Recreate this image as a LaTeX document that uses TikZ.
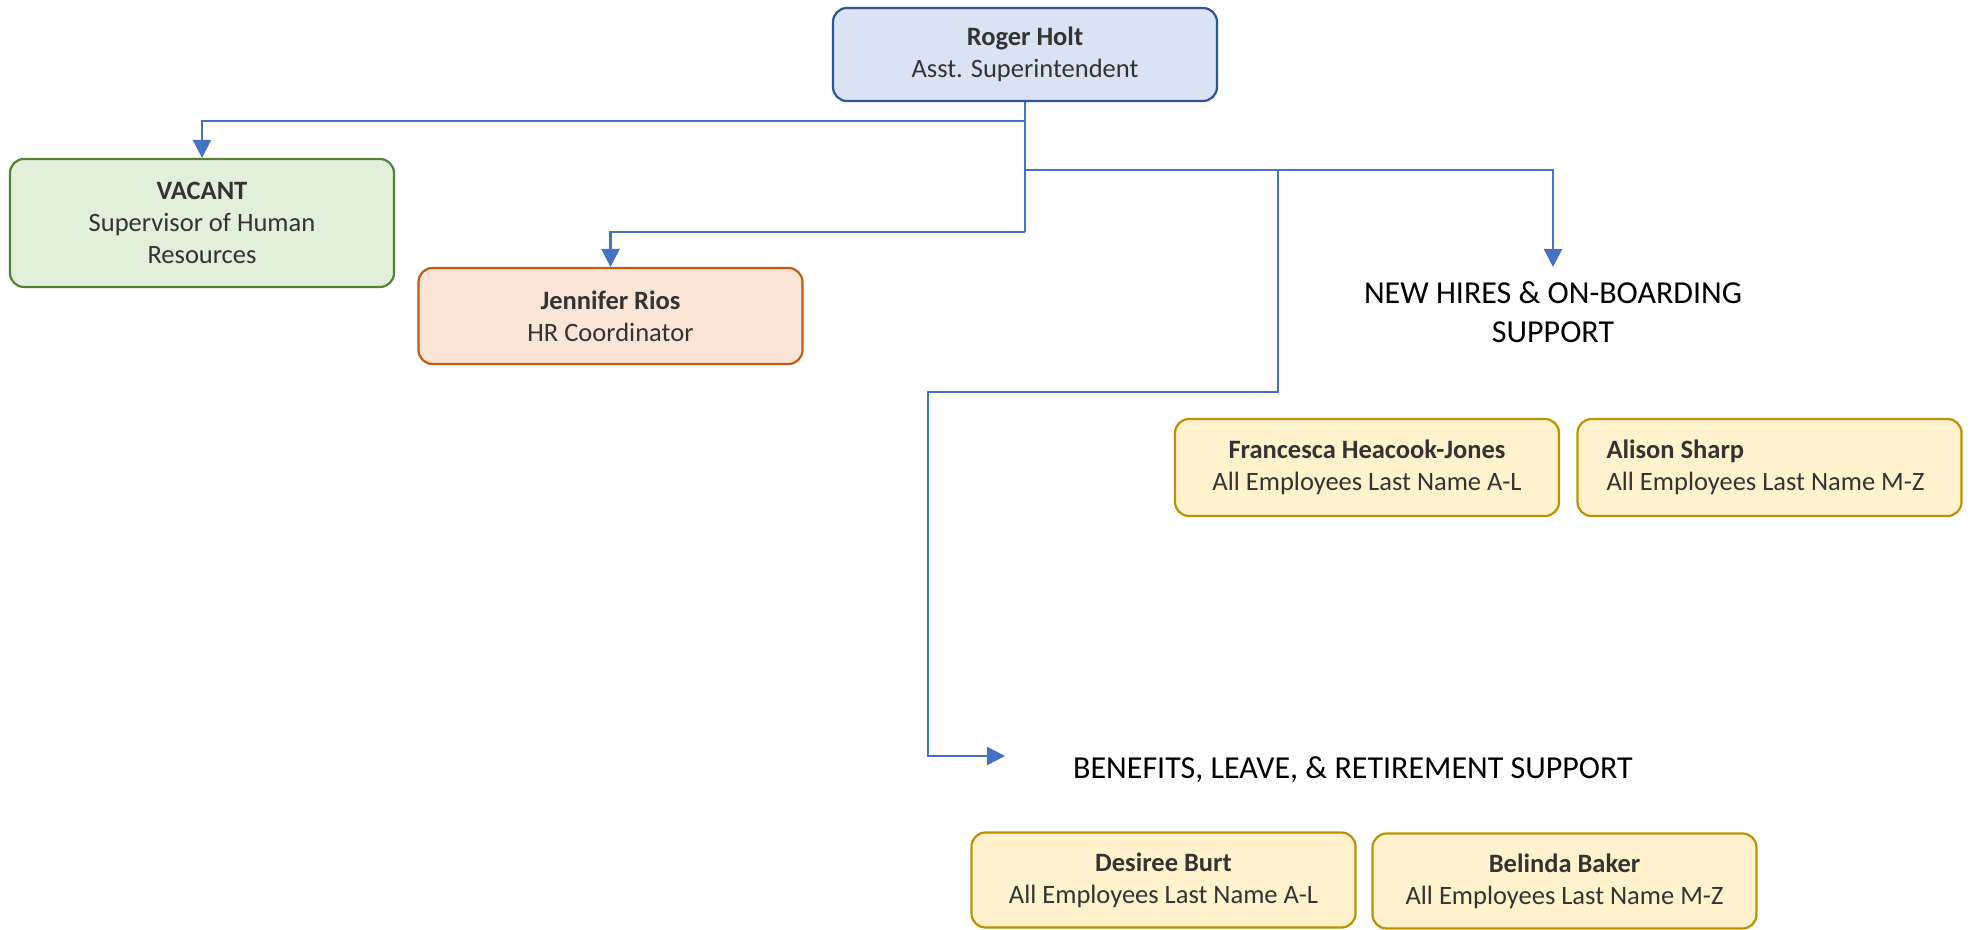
\documentclass[tikz,border=0pt]{standalone}
\usepackage{fontspec}
\setmainfont{Carlito}
\usetikzlibrary{arrows.meta}
\definecolor{conn}{HTML}{4472C4}
\definecolor{txt}{HTML}{333333}
\definecolor{bfill}{HTML}{DAE3F3}\definecolor{bdraw}{HTML}{2F5597}
\definecolor{gfill}{HTML}{E2EFDA}\definecolor{gdraw}{HTML}{548235}
\definecolor{ofill}{HTML}{FBE5D6}\definecolor{odraw}{HTML}{C55A11}
\definecolor{yfill}{HTML}{FFF2CC}\definecolor{ydraw}{HTML}{BF9000}
\tikzset{
  box/.style={draw, rounded corners=14pt, line width=2.2pt, align=center,
    text=txt, font=\fontsize{26.5}{32}\selectfont, inner sep=0pt,
    minimum width=384pt},
  bluebox/.style={box, fill=bfill, draw=bdraw},
  greenbox/.style={box, fill=gfill, draw=gdraw},
  orangebox/.style={box, fill=ofill, draw=odraw},
  yellowbox/.style={box, fill=yfill, draw=ydraw},
  header/.style={align=center, text=black, font=\fontsize{32}{39}\selectfont, inner sep=0pt},
  connector/.style={draw=conn, line width=2.5pt, -{Triangle[length=18pt,width=18pt]}},
  plainline/.style={draw=conn, line width=2.5pt}
}
\begin{document}
\begin{tikzpicture}[x=1pt,y=-1pt]
\useasboundingbox (0,0) rectangle (1973,929);
\node[bluebox, minimum height=93pt] (R) at (1025,54.5) {\textbf{Roger Holt}\\Asst. Superintendent};
\node[greenbox, minimum height=128pt] (V) at (202,223) {\textbf{VACANT}\\Supervisor of Human\\Resources};
\node[orangebox, minimum height=96pt] (J) at (610.5,316) {\textbf{Jennifer Rios}\\HR Coordinator};
\node[header, anchor=north, inner ysep=14pt] (NH) at (1553,267) {NEW HIRES \& ON-BOARDING\\SUPPORT};
\node[yellowbox, minimum height=97pt] (F) at (1367,467.5) {\textbf{Francesca Heacook-Jones}\\All Employees Last Name A-L};
\node[yellowbox, minimum height=97pt, text width=326pt, align=flush left, inner xsep=29pt] (A) at (1769.5,467.5) {\textbf{Alison Sharp}\\All Employees Last Name M-Z};
\node[header] (BL) at (1353,770) {BENEFITS, LEAVE, \& RETIREMENT SUPPORT};
\node[yellowbox, minimum height=95pt] (D) at (1163.5,880) {\textbf{Desiree Burt}\\All Employees Last Name A-L};
\node[yellowbox, minimum height=95pt] (BB) at (1564.5,881) {\textbf{Belinda Baker}\\All Employees Last Name M-Z};
\coordinate (j1) at (1025,121);
\coordinate (j2) at (1025,232);
\coordinate (j3) at (1025,170);
\coordinate (j4) at (1278,170);
\coordinate (j5) at (1278,392);
\coordinate (j6) at (928,392);
\coordinate (j7) at (928,756);
\coordinate (btip) at (1005,756);
\draw[plainline] (R.south) -- (j2);
\draw[connector] (j1) -| (V.north);
\draw[connector] (j2) -| (J.north);
\draw[connector] (j3) -| (NH.north);
\draw[connector] (j4) -- (j5) -- (j6) -- (j7) -- (btip);
\end{tikzpicture}
\end{document}
